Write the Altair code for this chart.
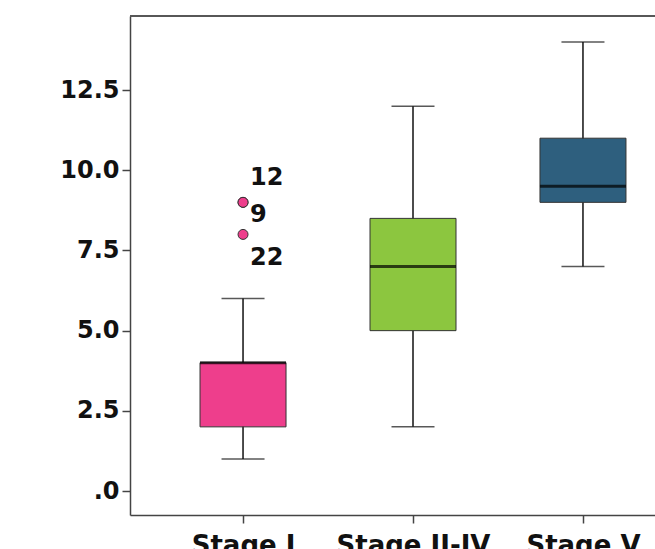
import altair as alt
import pandas as pd

# ---- data ----
stages = ["Stage I", "Stage II-IV", "Stage V"]
whisker_low = [1, 2, 7]
q1 = [2, 5, 9]
median = [4, 7, 9.5]
q3 = [4, 8.5, 11]
whisker_high = [6, 12, 14]
box_colors = ["#EE3E8C", "#8CC63F", "#2E5F7E"]

outlier_stage = ["Stage I", "Stage I", "Stage I"]
outlier_value = [9, 9, 8]
outlier_case = ["12", "9", "22"]

y_ticks = [0, 2.5, 5, 7.5, 10, 12.5]

boxes = pd.DataFrame({
    "stage": stages, "low": whisker_low, "q1": q1,
    "median": median, "q3": q3, "high": whisker_high,
})
outliers = pd.DataFrame({"stage": outlier_stage, "value": outlier_value, "case": outlier_case})

FONT = "DejaVu Sans"
PLOT_W, PLOT_H = 525, 499

x_enc = alt.X(
    "stage:N", sort=stages,
    scale=alt.Scale(type="point", domain=stages, range=[0, 566], padding=0.665),
    axis=alt.Axis(title=None, labelAngle=0, tickSize=8, labelPadding=9,
                  labelFontSize=26, labelBaseline="top"),
)
y_scale = alt.Scale(domain=[-0.748, 14.81], nice=False, zero=False)
y_axis = alt.Axis(title=None, values=y_ticks, tickSize=8, labelPadding=3,
                  labelExpr="datum.value == 0 ? '.0' : format(datum.value, '.1f')")

base = alt.Chart(boxes)

whisker = base.mark_rule(color="#111111", strokeWidth=1.5).encode(
    x=x_enc, y=alt.Y("low:Q", scale=y_scale, axis=y_axis), y2="high:Q"
)
box = base.mark_bar(size=86, stroke="#333333", strokeWidth=1).encode(
    x=x_enc, y=alt.Y("q1:Q", scale=y_scale, axis=y_axis), y2="q3:Q",
    color=alt.Color("stage:N", scale=alt.Scale(domain=stages, range=box_colors), legend=None),
)
cap_low = base.mark_tick(size=43, thickness=1.5, color="#111111").encode(
    x=x_enc, y=alt.Y("low:Q", scale=y_scale, axis=y_axis)
)
cap_high = base.mark_tick(size=43, thickness=1.5, color="#111111").encode(
    x=x_enc, y=alt.Y("high:Q", scale=y_scale, axis=y_axis)
)
med = base.mark_tick(size=86, thickness=3, color="#000000").encode(
    x=x_enc, y=alt.Y("median:Q", scale=y_scale, axis=y_axis)
)

pts = alt.Chart(outliers).mark_circle(
    size=100, color="#EE3E8C", opacity=1, stroke="#333333", strokeWidth=1
).encode(x=x_enc, y=alt.Y("value:Q", scale=y_scale, axis=y_axis))

label_offsets = {"12": -24, "9": 13, "22": 24}
texts = []
for case in outlier_case:
    texts.append(
        alt.Chart(outliers).transform_filter(alt.datum.case == case).mark_text(
            align="left", baseline="middle", dx=7, dy=label_offsets[case],
            font=FONT, fontSize=24, fontWeight="bold", color="#111111",
        ).encode(x=x_enc, y=alt.Y("value:Q", scale=y_scale, axis=y_axis), text="case:N")
    )

top_border = alt.Chart(boxes).mark_rule(color="#555555", strokeWidth=1.5).encode(
    x=alt.value(0), x2=alt.value(PLOT_W), y=alt.value(0)
)

chart = alt.layer(whisker, box, cap_low, cap_high, med, pts, *texts, top_border).properties(
    width=PLOT_W, height=PLOT_H,
    autosize=alt.AutoSizeParams(type="none"),
    padding={"left": 130, "top": 16, "right": 0, "bottom": 34},
).configure_view(stroke=None).configure_axis(
    grid=False, domainColor="#444444", domainWidth=1.5, tickColor="#444444",
    tickWidth=1.5, labelFont=FONT, labelFontWeight="bold", labelFontSize=24,
    labelColor="#111111",
)

chart.save("out.html", embed_options={"renderer": "svg", "actions": False})
